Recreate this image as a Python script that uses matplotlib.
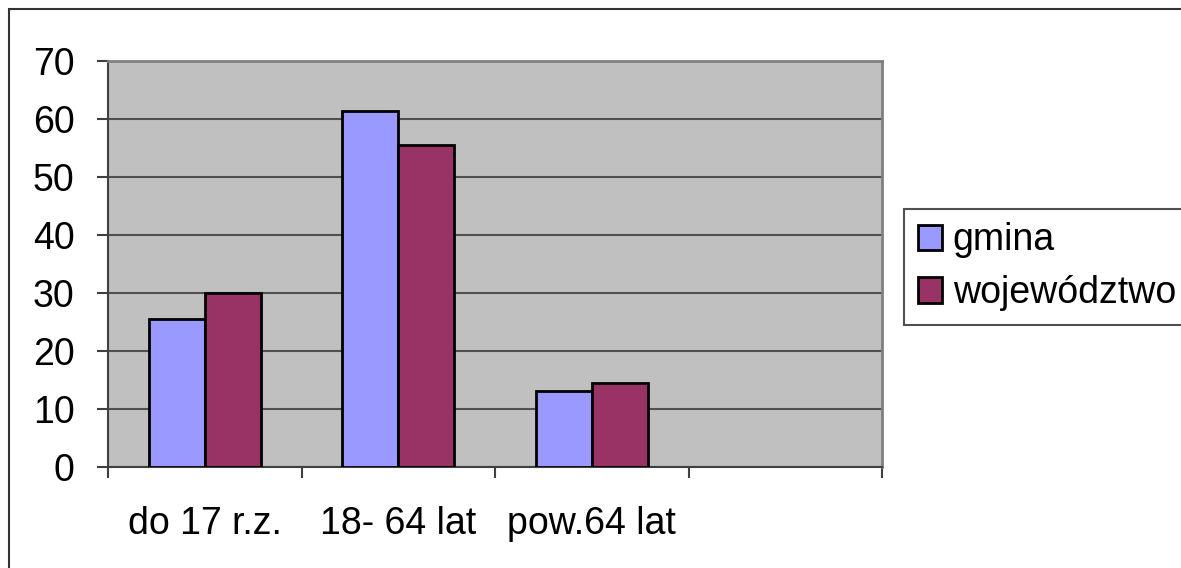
import numpy as np
import matplotlib
matplotlib.use("Agg")
import matplotlib.pyplot as plt
from matplotlib.patches import Rectangle

categories = ["do 17 r.z.", "18- 64 lat", "pow.64 lat", ""]
gmina = [25.5, 61.4, 13.1, np.nan]
wojewodztwo = [30.0, 55.5, 14.5, np.nan]
series_names = ["gmina", "województwo"]
y_ticks = [0, 10, 20, 30, 40, 50, 60, 70]

plt.rcParams["font.family"] = ["Liberation Sans", "DejaVu Sans"]
FS = 27

fig = plt.figure(figsize=(11.81, 5.68), dpi=100)
ax = fig.add_axes([108 / 1181, 101 / 568, (882 - 108) / 1181, (467 - 61) / 568])
ax.set_facecolor("#c0c0c0")

x = np.arange(len(categories))
w = 0.29
ax.bar(x - w / 2, gmina, w, color="#9999ff", edgecolor="black", linewidth=2,
       label=series_names[0], zorder=3)
ax.bar(x + w / 2, wojewodztwo, w, color="#993366", edgecolor="black", linewidth=2,
       label=series_names[1], zorder=3)

ax.set_xlim(-0.5, len(categories) - 0.5)
ax.set_ylim(0, 70)
ax.set_yticks(y_ticks)
ax.set_yticklabels([str(v) for v in y_ticks], fontsize=FS)
ax.yaxis.grid(True, color="#505050", linewidth=1.5, zorder=1)
ax.set_axisbelow(True)

# category labels at centres, tick marks at the boundaries
ax.set_xticks(x)
ax.set_xticklabels(categories, fontsize=FS)
ax.set_xticks(np.arange(-0.5, len(categories)), minor=True)
ax.tick_params(axis="x", which="major", length=0, pad=28)
ax.tick_params(axis="x", which="minor", length=8, width=1.5, color="#404040", direction="out")
ax.tick_params(axis="y", length=8, width=1.5, color="#404040", direction="out", pad=16)

for s in ["left", "bottom"]:
    ax.spines[s].set_color("#404040")
    ax.spines[s].set_linewidth(1.5)
for s in ["top", "right"]:
    ax.spines[s].set_color("#808080")
    ax.spines[s].set_linewidth(2)

# outer chart frame (runs off the right/bottom edge like the original)
fig.patches.append(Rectangle((9 / 1181, -0.1), 1.2, 1.1 - 9 / 568, transform=fig.transFigure,
                             fill=False, edgecolor="#333333", linewidth=1.5))

leg = fig.legend(loc="upper left", bbox_to_anchor=(904 / 1181, 1 - 209 / 568),
                 borderaxespad=0, fontsize=FS, frameon=True, fancybox=False,
                 edgecolor="#505050", framealpha=1, handlelength=0.64, handleheight=0.67,
                 handletextpad=0.3, labelspacing=0.45, borderpad=0.36)
leg.get_frame().set_linewidth(1.5)

fig.savefig("out.png", dpi=100)
